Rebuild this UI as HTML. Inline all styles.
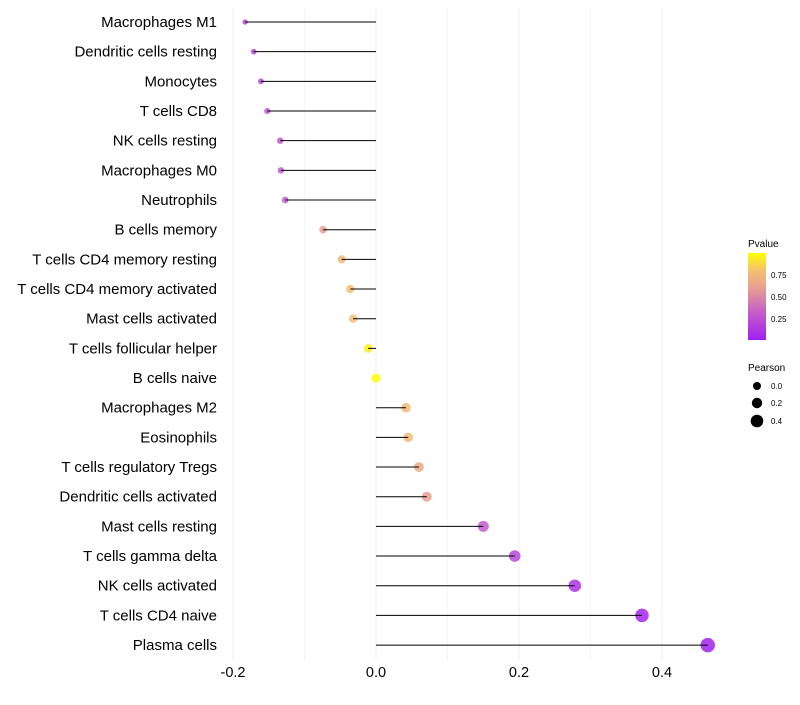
<!DOCTYPE html>
<html><head><meta charset="utf-8"><style>
body{margin:0;background:#fff;font-family:"Liberation Sans",sans-serif}
svg text{font-family:"Liberation Sans",sans-serif}
</style></head><body>
<svg id="chart" width="800" height="700">
<defs><linearGradient id="pg" x1="0" y1="1" x2="0" y2="0">
<stop offset="0" stop-color="#a020f0"/><stop offset="0.33" stop-color="#c860c8"/><stop offset="0.6" stop-color="#e8a090"/><stop offset="0.8" stop-color="#f4c070"/><stop offset="1" stop-color="#ffff00"/></linearGradient></defs>
<g id="grid"></g><g id="marks"></g><g id="labels"></g>
<g>
<text x="748" y="247" font-size="10">Pvalue</text>
<rect x="748" y="253" width="18" height="87" fill="url(#pg)"/>
<text x="771" y="278" font-size="8">0.75</text>
<text x="771" y="300" font-size="8">0.50</text>
<text x="771" y="322" font-size="8">0.25</text>
</g>
<g>
<text x="748" y="371" font-size="10">Pearson</text>
<circle cx="757" cy="386" r="4" fill="#000"/>
<circle cx="757" cy="403" r="5.2" fill="#000"/>
<circle cx="757" cy="421" r="6.3" fill="#000"/>
<text x="771" y="389" font-size="8">0.0</text>
<text x="771" y="406" font-size="8">0.2</text>
<text x="771" y="424" font-size="8">0.4</text>
</g>
</svg>
<script>
const categories=["Macrophages M1","Dendritic cells resting","Monocytes","T cells CD8","NK cells resting","Macrophages M0","Neutrophils","B cells memory","T cells CD4 memory resting","T cells CD4 memory activated","Mast cells activated","T cells follicular helper","B cells naive","Macrophages M2","Eosinophils","T cells regulatory  Tregs ","Dendritic cells activated","Mast cells resting","T cells gamma delta","NK cells activated","T cells CD4 naive","Plasma cells"];
const pearson=[-0.183,-0.171,-0.161,-0.152,-0.134,-0.133,-0.127,-0.074,-0.048,-0.036,-0.032,-0.011,0.0,0.042,0.045,0.060,0.071,0.150,0.194,0.278,0.372,0.464];
const pvalues=[0.2,0.2,0.24,0.25,0.3,0.3,0.32,0.6,0.75,0.8,0.8,0.95,1.0,0.77,0.76,0.66,0.6,0.3,0.2,0.1,0.03,0.01];
const xTicks=[-0.2,0.0,0.2,0.4];
const xTickLabels=["-0.2","0.0","0.2","0.4"];
const NS="http://www.w3.org/2000/svg";
const X=v=>376+v*715;
const Y=i=>22+i*29.67;
const stops=[[0,[160,32,240]],[0.33,[200,96,200]],[0.6,[232,160,144]],[0.8,[244,192,112]],[1,[255,255,0]]];
function col(p){for(let k=1;k<stops.length;k++){if(p<=stops[k][0]){const a=stops[k-1],b=stops[k],t=(p-a[0])/(b[0]-a[0]);return "rgb("+a[1].map((c,j)=>Math.round(c+(b[1][j]-c)*t)).join(",")+")";}}return "rgb(255,255,0)";}
function mk(t,a,parent){const e=document.createElementNS(NS,t);for(const k in a)e.setAttribute(k,a[k]);parent.appendChild(e);return e;}
const grid=document.getElementById('grid'),marks=document.getElementById('marks'),labels=document.getElementById('labels');
[-0.2,-0.1,0,0.1,0.2,0.3,0.4].forEach(v=>{const g=mk('line',{x1:X(v),x2:X(v),y1:8,y2:660,stroke:'#f0f0f0','stroke-width':Number.isInteger(Math.round(v*10)/2)?1.1:0.6},grid);

});
xTicks.forEach((v,i)=>{const t=mk('text',{x:X(v),y:677,'font-size':14.5,'text-anchor':'middle',fill:'#000'},labels);t.textContent=xTickLabels[i];

});
categories.forEach((c,i)=>{const y=Y(i),v=pearson[i];
const r=Math.sqrt(Math.max(2,20+70*v));
const dot=mk('circle',{cx:X(v),cy:y,r:r,fill:col(pvalues[i]),'fill-opacity':0.85},marks);


const ln=mk('line',{x1:X(0),x2:X(v),y1:y,y2:y,stroke:'#000','stroke-width':1},marks);


const t=mk('text',{x:217,y:y+5,'font-size':15,'text-anchor':'end',fill:'#000'},labels);t.textContent=c;

});
</script>
</body></html>
